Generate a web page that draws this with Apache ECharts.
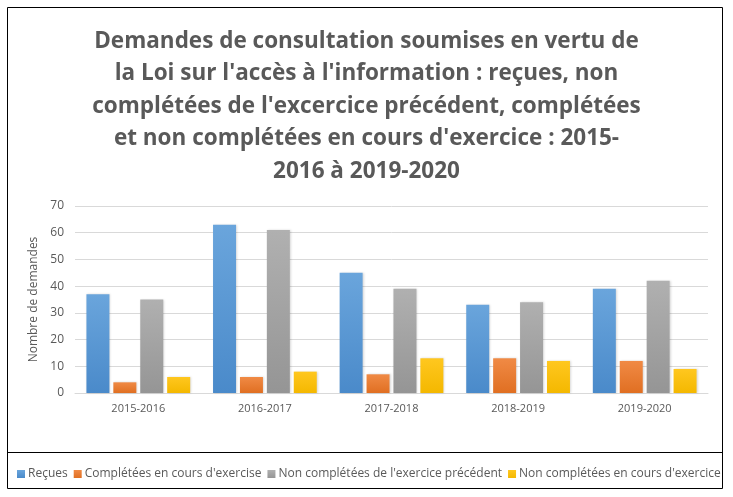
<!DOCTYPE html>
<html>
<head>
<meta charset="utf-8">
<script src="https://cdn.jsdelivr.net/npm/echarts@6/dist/echarts.min.js"></script>
<style>html,body{margin:0;padding:0;background:#fff}#c{width:733px;height:497px}</style>
</head>
<body>
<div id="c"></div>
<script>
var categories = ['2015-2016', '2016-2017', '2017-2018', '2018-2019', '2019-2020'];
var seriesNames = ['Reçues', "Complétées en cours d'exercise", "Non complétées de l'exercice précédent", "Non complétées en cours d'exercice"];
var recues = [37, 63, 45, 33, 39];
var completees = [4, 6, 7, 13, 12];
var nonCompleteesPrec = [35, 61, 39, 34, 42];
var nonCompleteesCours = [6, 8, 13, 12, 9];
var yTicks = [0, 10, 20, 30, 40, 50, 60, 70];

var colors = [['#6aa5dc', '#4a8aca'], ['#f08a45', '#e06f22'], ['#b0b0b0', '#959595'], ['#ffc71f', '#f4b800']];
var values = [recues, completees, nonCompleteesPrec, nonCompleteesCours];
var font = '"Open Sans", sans-serif';

var chart = echarts.init(document.getElementById('c'), null, {renderer: 'canvas'});
chart.setOption({
  animation: false,
  backgroundColor: '#fff',
  color: colors.map(function (c) { return c[0]; }),
  title: {
    text: "Demandes de consultation soumises en vertu de\nla Loi sur l'accès à l'information : reçues, non\ncomplétées de l'excercice précédent, complétées\net non complétées en cours d'exercice : 2015-\n2016 à 2019-2020",
    left: 'center',
    top: 20,
    textStyle: {fontFamily: font, fontWeight: 'bold', fontSize: 22.5, color: '#595959', lineHeight: 32.5, align: 'center'}
  },
  legend: {
    left: 12, top: 463,
    itemWidth: 8, itemHeight: 8, itemGap: 6,
    icon: 'rect',
    textStyle: {fontFamily: font, fontSize: 12, color: '#595959', padding: [0, 0, 0, -2]},
    data: seriesNames
  },
  grid: {left: 75, right: 25, top: 206, bottom: 104, containLabel: false},
  xAxis: {
    type: 'category',
    data: categories,
    axisLine: {lineStyle: {color: '#d9d9d9', width: 1}},
    axisTick: {show: false},
    axisLabel: {fontFamily: font, fontSize: 11, color: '#595959', margin: 10}
  },
  yAxis: {
    type: 'value',
    min: yTicks[0], max: yTicks[yTicks.length - 1], interval: 10,
    name: 'Nombre de demandes',
    nameLocation: 'middle',
    nameGap: 34,
    nameTextStyle: {fontFamily: font, fontSize: 12, color: '#595959'},
    axisLine: {show: false},
    axisTick: {show: false},
    axisLabel: {fontFamily: font, fontSize: 12, color: '#595959', margin: 11},
    splitLine: {lineStyle: {color: '#d9d9d9', width: 1}}
  },
  series: seriesNames.map(function (n, i) {
    return {
      name: n,
      type: 'bar',
      data: values[i],
      barWidth: 23,
      barGap: '17%',
      itemStyle: {
        color: new echarts.graphic.LinearGradient(0, 0, 0, 1, [{offset: 0, color: colors[i][0]}, {offset: 1, color: colors[i][1]}]),
        shadowColor: 'rgba(0,0,0,0.15)', shadowBlur: 2, shadowOffsetX: 1, shadowOffsetY: 0
      }
    };
  }),
  graphic: [
    {type: 'rect', silent: true, z: 100, shape: {x: 7.5, y: 7.5, width: 715, height: 481}, style: {fill: 'none', stroke: '#000', lineWidth: 1}},
    {type: 'line', silent: true, z: 100, shape: {x1: 7.5, y1: 452.5, x2: 722.5, y2: 452.5}, style: {stroke: '#000', lineWidth: 1}}
  ]
});
</script>
</body>
</html>
